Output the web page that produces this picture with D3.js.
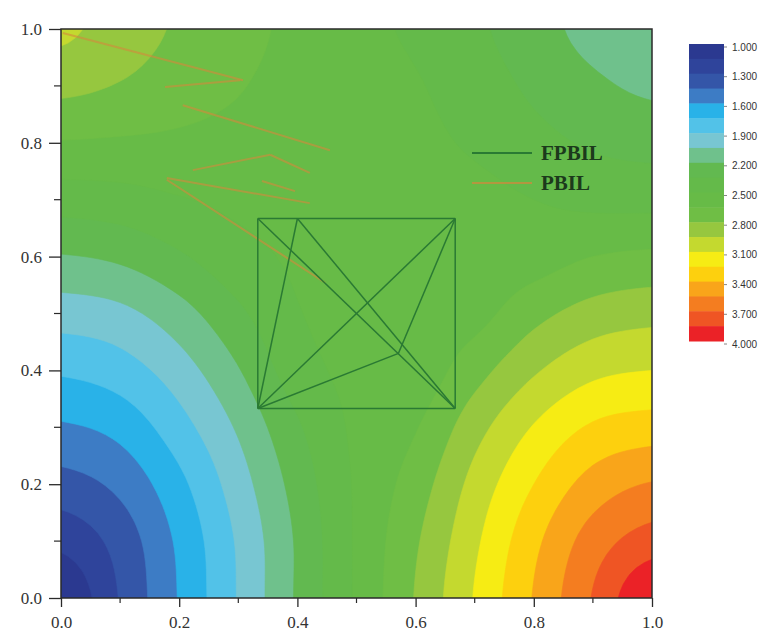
<!DOCTYPE html>
<html><head><meta charset="utf-8">
<script src="https://cdn.jsdelivr.net/npm/d3@7/dist/d3.min.js"></script>
<style>body{margin:0;background:#fff}svg{display:block}</style>
</head><body><svg id="chart" width="766" height="637"></svg>
<script>
// ---------- data ----------
const gridX = [0,0.1,0.2,0.3,0.4,0.5,0.6,0.7,0.8,0.9,1.0];
const gridY = [0,0.1,0.2,0.3,0.4,0.5,0.6,0.7,0.8,0.9,1.0];
// rows from y=0 (bottom) to y=1 (top), columns x=0..1
const zRows = [
  [1.01,1.31,1.61,1.91,2.22,2.52,2.81,3.11,3.41,3.71,4.00],
  [1.19,1.36,1.63,1.92,2.22,2.52,2.78,3.07,3.36,3.62,3.77],
  [1.39,1.49,1.71,1.98,2.26,2.52,2.72,3.00,3.25,3.46,3.56],
  [1.58,1.65,1.84,2.07,2.33,2.53,2.64,2.89,3.11,3.27,3.32],
  [1.77,1.83,1.98,2.19,2.43,2.54,2.56,2.74,2.93,3.06,3.10],
  [1.97,2.01,2.14,2.32,2.49,2.55,2.56,2.60,2.75,2.86,2.90],
  [2.19,2.23,2.33,2.45,2.52,2.55,2.56,2.56,2.58,2.65,2.68],
  [2.42,2.44,2.49,2.53,2.53,2.55,2.55,2.54,2.50,2.46,2.45],
  [2.64,2.63,2.62,2.60,2.56,2.54,2.53,2.48,2.40,2.33,2.30],
  [2.84,2.79,2.72,2.66,2.59,2.54,2.51,2.43,2.32,2.23,2.17],
  [2.98,2.88,2.78,2.70,2.61,2.53,2.48,2.38,2.26,2.15,2.08]
];
const levels = [1.0,1.15,1.3,1.45,1.6,1.75,1.9,2.05,2.2,2.35,2.5,2.65,2.8,2.95,3.1,3.25,3.4,3.55,3.7,3.85];
const bandColors = ["#2b3990","#2f449b","#3456a8","#3d7cc5","#29b2e8","#52c2e8","#78c6d2","#6fc18c",
  "#62b950","#64ba4a","#67bb47","#6fbe45","#96c73f","#c4d92f","#f6ec14","#fdd00e","#f9a51a","#f47d20","#ef5524","#eb2227"];
const colorbarTicks = [1.0,1.3,1.6,1.9,2.2,2.5,2.8,3.1,3.4,3.7,4.0];
const xTicks = [0,0.2,0.4,0.6,0.8,1.0];
const yTicks = [0,0.2,0.4,0.6,0.8,1.0];
const minorTicks = [0.1,0.3,0.5,0.7,0.9];
// FPBIL segments [x1,y1,x2,y2]
const fpbilSegments = [
  [0.333,0.333,0.667,0.333],[0.667,0.333,0.667,0.667],[0.667,0.667,0.333,0.667],[0.333,0.667,0.333,0.333],
  [0.333,0.333,0.400,0.667],[0.333,0.333,0.667,0.667],[0.333,0.333,0.571,0.430],[0.571,0.430,0.667,0.667],
  [0.400,0.667,0.667,0.333],[0.333,0.667,0.667,0.333]
];
// PBIL segments
const pbilSegments = [
  [0.003,0.993,0.308,0.910],[0.176,0.898,0.303,0.910],[0.206,0.866,0.455,0.787],
  [0.223,0.752,0.354,0.779],[0.354,0.779,0.421,0.747],[0.179,0.738,0.421,0.694],
  [0.179,0.735,0.447,0.554],[0.340,0.733,0.396,0.715]
];
const legendLabels = ["FPBIL","PBIL"];
const legendColors = ["#2a7a33","#d4883c"];

// ---------- layout ----------
const svg = d3.select("#chart");
const L = 61, R = 652, T = 29, B = 598;
const x = d3.scaleLinear().domain([0,1]).range([L,R]);
const y = d3.scaleLinear().domain([0,1]).range([B,T]);
const nx = gridX.length, ny = gridY.length;

// smooth (bicubic) resampling of the grid for drawing the filled contours
const K = 8;
const NX = (nx-1)*K+1, NY = (ny-1)*K+1;
function at(i,j){ i=Math.max(0,Math.min(nx-1,i)); j=Math.max(0,Math.min(ny-1,j)); return zRows[j][i]; }
function cub(p0,p1,p2,p3,t){ return p1 + 0.5*t*(p2-p0 + t*(2*p0-5*p1+4*p2-p3 + t*(3*(p1-p2)+p3-p0))); }
const fine = new Array(NX*NY);
for (let J=0; J<NY; J++){
  const fy = J/K, j = Math.min(Math.floor(fy), ny-2), ty = fy-j;
  for (let I=0; I<NX; I++){
    const fx = I/K, i = Math.min(Math.floor(fx), nx-2), tx = fx-i;
    const rows = [-1,0,1,2].map(dj => cub(at(i-1,j+dj),at(i,j+dj),at(i+1,j+dj),at(i+2,j+dj),tx));
    fine[J*NX+I] = cub(rows[0],rows[1],rows[2],rows[3],ty);
  }
}
const gx = d3.scaleLinear().domain([0.5, NX-0.5]).range([x(gridX[0]), x(gridX[nx-1])]);
const gy = d3.scaleLinear().domain([0.5, NY-0.5]).range([y(gridY[0]), y(gridY[ny-1])]);

svg.append("defs").append("clipPath").attr("id","clip")
  .append("rect").attr("x",L).attr("y",T).attr("width",R-L).attr("height",B-T);

const plot = svg.append("g").attr("clip-path","url(#clip)");
plot.append("rect").attr("x",L).attr("y",T).attr("width",R-L).attr("height",B-T).attr("fill",bandColors[0]);

const contours = d3.contours().size([NX,NY]).thresholds(levels)(fine);
const proj = d3.geoTransform({point(px,py){ this.stream.point(gx(px), gy(py)); }});
const path = d3.geoPath(proj);
plot.selectAll("path.band").data(contours).join("path")
  .attr("class","band")
  .attr("d", path)
  .attr("fill", (d,i)=>bandColors[i])
  .attr("stroke", (d,i)=>bandColors[i]).attr("stroke-width",0.6);

// PBIL lines
plot.selectAll("line.pbil").data(pbilSegments).join("line")
  .attr("x1",d=>x(d[0])).attr("y1",d=>y(d[1])).attr("x2",d=>x(d[2])).attr("y2",d=>y(d[3]))
  .attr("stroke",legendColors[1]).attr("stroke-opacity",0.6).attr("stroke-width",2);
// FPBIL lines
plot.selectAll("line.fp").data(fpbilSegments).join("line")
  .attr("x1",d=>x(d[0])).attr("y1",d=>y(d[1])).attr("x2",d=>x(d[2])).attr("y2",d=>y(d[3]))
  .attr("stroke",legendColors[0]).attr("stroke-width",1.5);

// legend
const lg = svg.append("g");
legendLabels.forEach((lab,i)=>{
  const yy = 153 + i*30;
  lg.append("line").attr("x1",472).attr("x2",532).attr("y1",yy).attr("y2",yy)
    .attr("stroke",legendColors[i]).attr("stroke-width",i===0?1.8:1.8).attr("stroke-opacity",i===0?1:0.7);
  lg.append("text").attr("x",541).attr("y",yy+7).text(lab)
    .attr("font-family","Liberation Serif, serif").attr("font-weight","bold").attr("font-size",21)
    .attr("fill","#1c3a1c");
});

// axes frame
svg.append("rect").attr("x",L).attr("y",T).attr("width",R-L).attr("height",B-T)
  .attr("fill","none").attr("stroke","#2a2a2a").attr("stroke-width",1.5);

const xAxis = d3.axisBottom(x).tickValues(xTicks).tickFormat(d3.format(".1f")).tickSize(9).tickPadding(9);
const gxA = svg.append("g").attr("transform",`translate(0,${B})`).call(xAxis);
const yAxis = d3.axisLeft(y).tickValues(yTicks).tickFormat(d3.format(".1f")).tickSize(12).tickPadding(7);
const gyA = svg.append("g").attr("transform",`translate(${L},0)`).call(yAxis);
[gxA,gyA].forEach(g=>{
  g.select(".domain").remove();
  g.selectAll("line").attr("stroke","#2a2a2a").attr("stroke-width",1.3);
  g.selectAll("text").attr("font-family","Liberation Serif, serif").attr("font-size",17).attr("fill","#333");
});
svg.append("g").selectAll("line").data(minorTicks).join("line")
  .attr("x1",d=>x(d)).attr("x2",d=>x(d)).attr("y1",B).attr("y2",B+5)
  .attr("stroke","#2a2a2a").attr("stroke-width",1.2);
svg.append("g").selectAll("line").data(minorTicks).join("line")
  .attr("y1",d=>y(d)).attr("y2",d=>y(d)).attr("x1",L).attr("x2",L-7)
  .attr("stroke","#2a2a2a").attr("stroke-width",1.2);

// colorbar
const cb = d3.scaleLinear().domain([1,4]).range([44,341]);
const cbX = 689, cbW = 35;
svg.append("g").selectAll("rect").data(levels).join("rect")
  .attr("x",cbX).attr("width",cbW)
  .attr("y",d=>cb(d)).attr("height",d=>cb(d+0.15)-cb(d)+0.5)
  .attr("fill",(d,i)=>bandColors[i]);
const cg = svg.append("g");
cg.selectAll("line").data(colorbarTicks).join("line")
  .attr("x1",cbX+cbW).attr("x2",cbX+cbW+3).attr("y1",d=>cb(d)+3).attr("y2",d=>cb(d)+3)
  .attr("stroke","#666").attr("stroke-width",0.8);
cg.selectAll("text").data(colorbarTicks).join("text")
  .attr("x",cbX+cbW+8).attr("y",d=>cb(d)+3).attr("dy","0.35em")
  .attr("font-family","Liberation Sans, Arial, sans-serif").attr("font-size",10).attr("fill","#333")
  .text(d=>d3.format(".3f")(d));
</script></body></html>
